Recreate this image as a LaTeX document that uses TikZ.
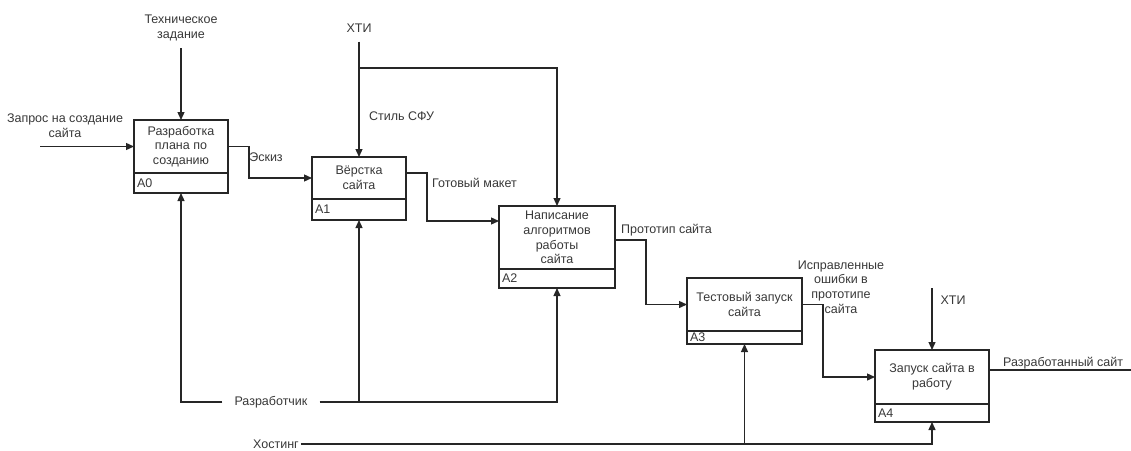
\documentclass[tikz,border=0pt]{standalone}
\usepackage{fontspec}
\setmainfont{Liberation Sans}
\usetikzlibrary{arrows.meta,positioning,calc}
\definecolor{tekst}{HTML}{383838}
\definecolor{chert}{HTML}{262626}
\newcommand{\shrift}{\fontsize{12.5}{14.7}\selectfont}

\begin{document}
\begin{tikzpicture}[x=1pt,y=-1pt,
	blok/.style={draw=chert, line width=1.3pt, outer sep=0pt, align=center, font=\shrift, text=tekst, inner sep=1pt},
	nomer/.style={draw=chert, line width=1.3pt, outer sep=0pt, align=left, font=\shrift, text=tekst, inner xsep=3pt, inner ysep=0pt},
	pot/.style={draw=chert, line width=1.3pt, -{Triangle[length=8pt,width=7pt]}},
	liniya/.style={draw=chert, line width=1.3pt},
	metka/.style={font=\shrift, text=tekst, align=center, inner sep=1pt}]
	\useasboundingbox (0,0) rectangle (1131,450);
	% Блоки
	\node[blok, minimum width=94pt, minimum height=53pt] (a0) at (181,146.5) {Разработка\\плана по\\созданию};
	\node[nomer, text width=88pt, minimum height=20pt, below=0pt of a0] (a0n) {A0};
	\node[blok, minimum width=94pt, minimum height=42pt] (a1) at (359,178) {Вёрстка\\сайта};
	\node[nomer, text width=88pt, minimum height=21pt, below=0pt of a1] (a1n) {A1};
	\node[blok, minimum width=116pt, minimum height=63pt] (a2) at (557,237.5) {Написание\\алгоритмов\\работы\\сайта};
	\node[nomer, text width=110pt, minimum height=19pt, below=0pt of a2] (a2n) {A2};
	\node[blok, minimum width=115pt, minimum height=53pt] (a3) at (744.5,304.5) {Тестовый запуск\\сайта};
	\node[nomer, text width=109pt, minimum height=13pt, below=0pt of a3] (a3n) {A3};
	\node[blok, minimum width=114pt, minimum height=54pt] (a4) at (932,377) {Запуск сайта в\\работу};
	\node[nomer, text width=108pt, minimum height=18pt, below=0pt of a4] (a4n) {A4};
	% Входы и выходы
	\node[metka] (zapros) at (65,126) {Запрос на создание\\сайта};
	\coordinate (zin) at (40,146.5);
	\draw[pot] (zin) -- (a0.west);
	\draw[pot] (a0.east) -- ++(21,0) |- (a1.west);
	\node[metka] (eskiz) at (266,157) {Эскиз};
	\draw[pot] ($(a1.east)+(0,-5)$) -- ++(21,0) |- ($(a2.west)+(0,-16.5)$);
	\node[metka, anchor=west] (maket) at (431,183) {Готовый макет};
	\draw[pot] ($(a2.east)+(0,2.5)$) -- ++(31,0) |- (a3.west);
	\node[metka, anchor=west] (proto) at (620,230) {Прототип сайта};
	\draw[pot] (a3.east) -- ++(21,0) |- (a4.west);
	\node[metka] (ispr) at (841,287) {Исправленные\\ошибки в\\прототипе\\сайта};
	\coordinate (vyhod) at (1131,370);
	\draw[liniya] ($(a4.east)+(0,-7)$) -- (vyhod);
	\node[metka, anchor=west] (sait) at (1002,363) {Разработанный сайт};
	% Управление
	\node[metka] (tz) at (181,28) {Техническое\\задание};
	\draw[pot, shorten <=6pt] (tz) -- (a0);
	\node[metka] (xti1) at (359,28) {ХТИ};
	\draw[pot, shorten <=8pt] (xti1) -- (a1);
	\coordinate (stil) at (359,68);
	\draw[pot] (stil) -| (a2.north);
	\node[metka, anchor=west] (sfu) at (368,116) {Стиль СФУ};
	\coordinate (xti4v) at (932,288);
	\draw[pot] (xti4v) -- (a4.north);
	\node[metka] (xti2) at (953,300) {ХТИ};
	% Механизмы
	\node[metka, inner xsep=12pt] (razr) at (271,402) {Разработчик};
	\draw[pot] (razr.west) -| (a0n.south);
	\draw[pot] (razr.east) -| (a2n.south);
	\draw[pot] (razr.east -| a1n.south) -- (a1n.south);
	\node[metka, inner xsep=2pt] (host) at (276,444) {Хостинг};
	\draw[pot] (host.east) -| (a4n.south);
	\draw[pot] (host.east -| a3n.south) -- (a3n.south);
\end{tikzpicture}
\end{document}
